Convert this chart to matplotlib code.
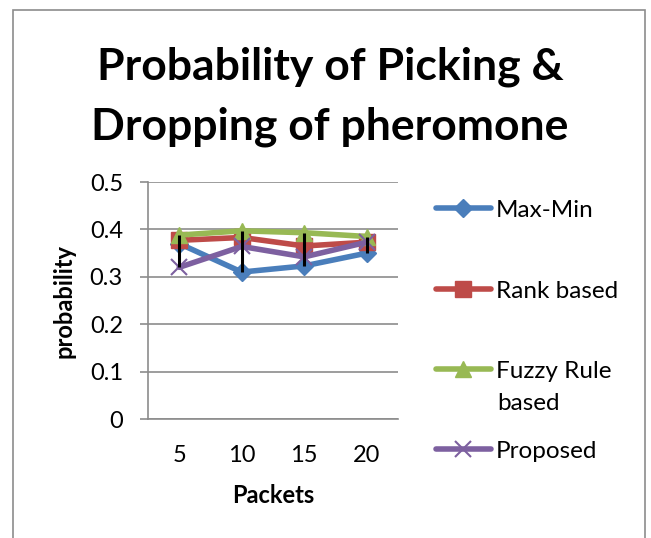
import matplotlib.pyplot as plt
from matplotlib.patches import Rectangle
import numpy as np

plt.rcParams['font.family'] = ['Lato', 'DejaVu Sans']

# data
packets = ['5', '10', '15', '20']
max_min = [0.37, 0.31, 0.323, 0.35]
rank_based = [0.377, 0.383, 0.365, 0.373]
fuzzy_rule = [0.388, 0.397, 0.393, 0.385]
proposed = [0.32, 0.364, 0.342, 0.373]
yticks = [0, 0.1, 0.2, 0.3, 0.4, 0.5]

fig = plt.figure(figsize=(6.51, 5.38), dpi=100)
ax = fig.add_axes([148 / 651, 1 - 419 / 538, 250 / 651, 237 / 538])

x = np.arange(len(packets))
h1, = ax.plot(x, max_min, color='#4a7ebb', lw=4, marker='D', ms=9, solid_capstyle='round')
h2, = ax.plot(x, rank_based, color='#be4b48', lw=4, marker='s', ms=12, solid_capstyle='round')
h3, = ax.plot(x, fuzzy_rule, color='#98b954', lw=4, marker='^', ms=12, solid_capstyle='round')
h4, = ax.plot(x, proposed, color='#7d60a0', lw=4, marker='x', ms=12, mew=1.5, solid_capstyle='round')

# high-low lines
allv = np.array([max_min, rank_based, fuzzy_rule, proposed])
ax.vlines(x, allv.min(axis=0), allv.max(axis=0), color='black', lw=2.2, zorder=5)

ax.set_xlim(-0.5, len(packets) - 0.5)
ax.set_ylim(0, 0.5)
ax.set_yticks(yticks)
ax.set_yticklabels(['0', '0.1', '0.2', '0.3', '0.4', '0.5'], fontsize=17)
ax.set_xticks(x)
ax.set_xticklabels(packets, fontsize=17)
ax.yaxis.grid(True, color='#8c8c8c', lw=1.2)
ax.set_axisbelow(True)
for s in ['top', 'right']:
    ax.spines[s].set_visible(False)
for s in ['left', 'bottom']:
    ax.spines[s].set_color('#8c8c8c')
    ax.spines[s].set_linewidth(1.2)
ax.tick_params(axis='y', length=6, color='#8c8c8c', width=1.2, pad=12)
ax.tick_params(axis='x', length=0, pad=19)
ax.set_xlabel('Packets', fontsize=17, fontweight='bold', labelpad=13)
ax.set_ylabel('probability', fontsize=17, fontweight='bold', labelpad=10)

fig.text(0.507, 1 - 67 / 538, 'Probability of Picking &', ha='center', va='center',
         fontsize=32, fontweight='bold')
fig.text(0.507, 1 - 127 / 538, 'Dropping of pheromone', ha='center', va='center',
         fontsize=32, fontweight='bold')

# legend entries placed one by one, like the stacked Excel legend
entries = [(h1, 'Max-Min', 210), (h2, 'Rank based', 291),
           (h3, 'Fuzzy Rule', 371), (h4, 'Proposed', 451)]
for h, lab, yp in entries:
    fig.legend([h], [lab], loc='center left', bbox_to_anchor=(436 / 651, 1 - yp / 538),
               frameon=False, fontsize=17.5, handlelength=2.25, handletextpad=0.2,
               borderpad=0, borderaxespad=0)
fig.text(497 / 651, 1 - 403 / 538, 'based', ha='left', va='center', fontsize=17.5)

fig.patches.append(Rectangle((13 / 651, -0.05), (645 - 13) / 651, 1.05 - 10 / 538,
                             transform=fig.transFigure, fill=False, ec='#8c8c8c', lw=1.2))

fig.savefig('out.png', dpi=100)
